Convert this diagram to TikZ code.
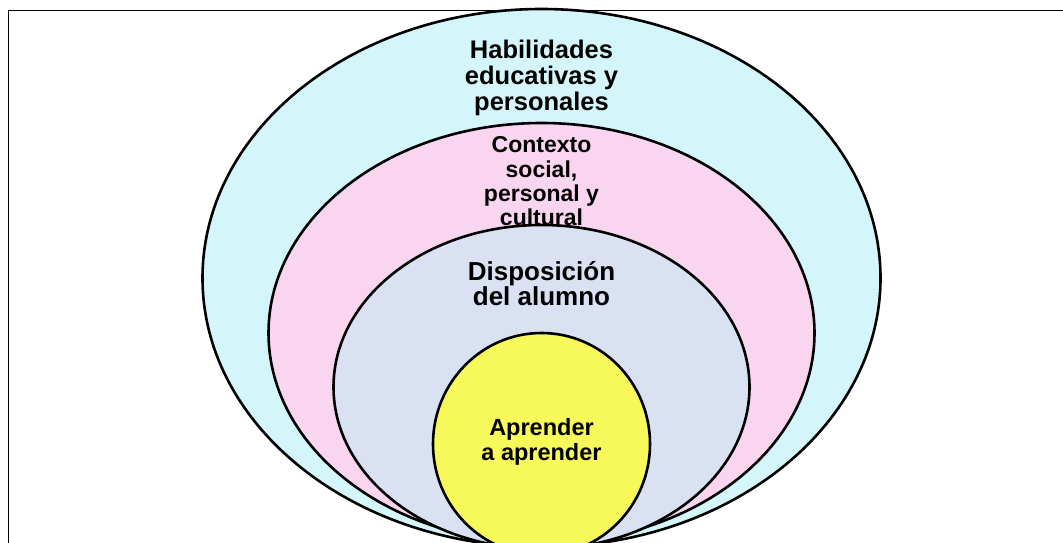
\documentclass[tikz,border=0pt]{standalone}
\usepackage{fontspec}
\setmainfont{Liberation Sans}
\definecolor{cyanfill}{HTML}{D4F6FB}
\definecolor{pinkfill}{HTML}{F9D5F0}
\definecolor{lavfill}{HTML}{DAE1F3}
\definecolor{yelfill}{HTML}{F7F95A}
\tikzset{
  ring/.style={draw=black, line width=2.6pt},
  lbl/.style={align=center, inner sep=0pt, font=\bfseries, text=black},
  frameline/.style={draw=black, line width=1.8pt}
}
\begin{document}
\begin{tikzpicture}[x=1pt,y=-1pt]
\useasboundingbox (0,0) rectangle (1063,543);
\clip (0,0) rectangle (1063,543);
\fill[white] (0,0) rectangle (1063,543);
\draw[frameline] (8.5,560) -- (8.5,10.5) -- (1080,10.5);
% outer ring
\path[ring, fill=cyanfill] (541.5,278) ellipse [x radius=339, y radius=269];
\node[lbl, font=\fontsize{25.5}{25.75}\selectfont\bfseries] (hab) at (541.5,78) {Habilidades\\educativas y\\personales};
% pink ring
\path[ring, fill=pinkfill] (541.5,333) ellipse [x radius=273, y radius=210];
\node[lbl, font=\fontsize{23}{24.3}\selectfont\bfseries] (ctx) at (541.5,181.5) {Contexto\\social,\\personal y\\cultural};
% lavender ring
\path[ring, fill=lavfill] (541.5,387) ellipse [x radius=208, y radius=162];
\node[lbl, font=\fontsize{26}{25}\selectfont\bfseries] (dis) at (541.5,283.5) {Disposición\\del alumno};
% yellow core
\path[ring, fill=yelfill] (541.5,444) ellipse [x radius=108.5, y radius=111];
\node[lbl, font=\fontsize{23.5}{25}\selectfont\bfseries] (apr) at (541.5,441.7) {Aprender\\a aprender};
\end{tikzpicture}
\end{document}
